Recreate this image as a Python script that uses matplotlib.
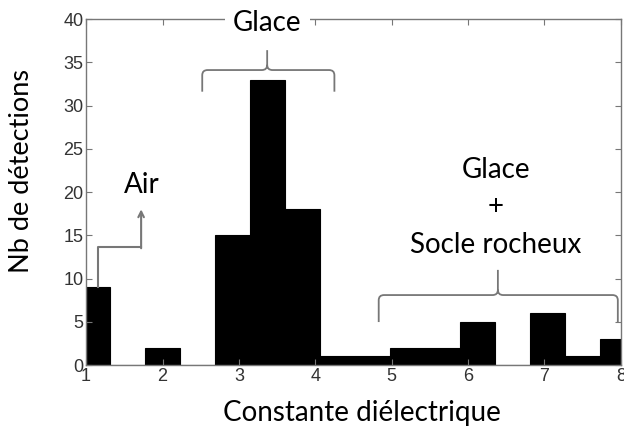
import numpy as np
import matplotlib
matplotlib.use("Agg")
import matplotlib.pyplot as plt
from matplotlib.path import Path
from matplotlib.patches import PathPatch

# histogramme des constantes diélectriques (16 classes)
bin_centers = [1.089, 1.546, 2.004, 2.461, 2.919, 3.376, 3.834, 4.291,
               4.749, 5.206, 5.664, 6.121, 6.579, 7.036, 7.494, 7.951]
counts = [9, 0, 2, 0, 15, 33, 18, 1, 1, 2, 2, 5, 0, 6, 1, 3]
bin_width = 0.4575

x_ticks = [1, 2, 3, 4, 5, 6, 7, 8]
y_ticks = [0, 5, 10, 15, 20, 25, 30, 35, 40]

GRIS = "#777777"
POLICE = "Lato"
TAILLE = 20


def accolade(ax, x0, x1, xm, y_tip, y_bar, y_cusp, r):
    """accolade horizontale ouverte vers le bas"""
    verts = [(x0, y_tip), (x0, y_bar - r[1]), (x0, y_bar), (x0 + r[0], y_bar),
             (xm - r[0], y_bar), (xm, y_bar), (xm, y_bar + r[1]),
             (xm, y_cusp),
             (xm, y_bar + r[1]), (xm, y_bar), (xm + r[0], y_bar),
             (x1 - r[0], y_bar), (x1, y_bar), (x1, y_bar - r[1]), (x1, y_tip)]
    codes = [Path.MOVETO, Path.LINETO, Path.CURVE3, Path.CURVE3,
             Path.LINETO, Path.CURVE3, Path.CURVE3,
             Path.LINETO,
             Path.MOVETO, Path.CURVE3, Path.CURVE3,
             Path.LINETO, Path.CURVE3, Path.CURVE3, Path.LINETO]
    ax.add_patch(PathPatch(Path(verts, codes), fill=False, edgecolor=GRIS,
                           lw=1.3, clip_on=False, zorder=5))


fig = plt.figure(figsize=(6.24, 4.32), dpi=100)
ax = fig.add_axes([0.138, 0.155, 0.857, 0.801])

ax.bar(bin_centers, counts, width=bin_width, color="black",
       edgecolor="black", linewidth=0.8, align="center")

ax.set_xlim(1, 8)
ax.set_ylim(0, 40)
ax.set_xticks(x_ticks)
ax.set_yticks(y_ticks)
ax.tick_params(direction="in", length=4, width=0.8, color=GRIS,
               labelsize=13, labelcolor="#333333", top=True, right=True,
               pad=2)
for lab in ax.get_xticklabels() + ax.get_yticklabels():
    lab.set_fontfamily("Liberation Sans")
for s in ax.spines.values():
    s.set_color(GRIS)
    s.set_linewidth(1.0)

ax.set_xlabel("Constante diélectrique", fontsize=TAILLE, family=POLICE)
ax.xaxis.set_label_coords(0.515, -0.1)
ax.set_ylabel("Nb de détections", fontsize=19.5, family=POLICE)
ax.yaxis.set_label_coords(-0.098, 0.56)

# Glace
ax.text(3.37, 39.5, "Glace", ha="center", va="center", fontsize=TAILLE,
        family=POLICE, zorder=6, clip_on=False,
        bbox=dict(facecolor="white", edgecolor="none", pad=6))
accolade(ax, 2.52, 4.25, 3.37, 31.6, 34.1, 36.4, (0.07, 0.6))

# Air
ax.plot([1.157, 1.157, 1.72], [9, 13.6, 13.6], color=GRIS, lw=1.5,
        clip_on=False, zorder=5)
ax.annotate("", xy=(1.72, 18.0), xytext=(1.72, 13.5),
            arrowprops=dict(arrowstyle="->", color=GRIS, lw=1.5,
                            shrinkA=0, shrinkB=0, mutation_scale=10))
ax.text(1.73, 20.8, "Air", ha="center", va="center", fontsize=TAILLE,
        family=POLICE)

# Glace + socle rocheux
ax.text(6.36, 22.5, "Glace", ha="center", va="center", fontsize=TAILLE,
        family=POLICE)
ax.text(6.36, 18.3, "+", ha="center", va="center", fontsize=TAILLE,
        family=POLICE)
ax.text(6.36, 13.9, "Socle rocheux", ha="center", va="center",
        fontsize=TAILLE, family=POLICE)
accolade(ax, 4.83, 7.96, 6.39, 4.97, 8.09, 11.0, (0.07, 0.6))

fig.savefig("out.png", dpi=100)
